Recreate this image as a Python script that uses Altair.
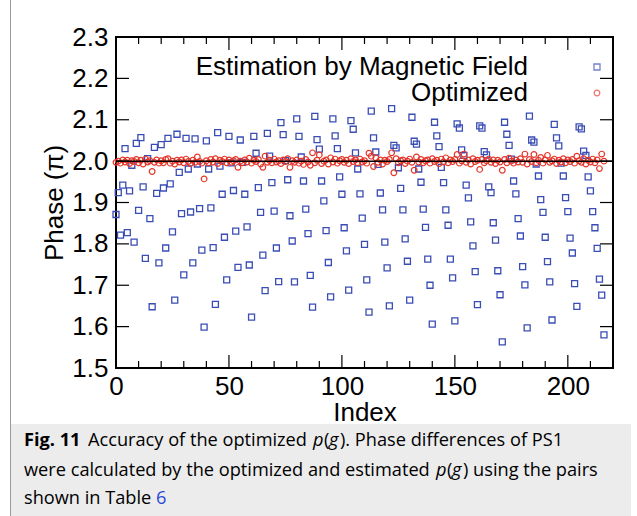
import altair as alt
import pandas as pd

# ---------------- data ----------------
index = list(range(217))

estimation = [
    1.871, 1.924, 1.821, 1.942, 2.030, 1.827, 1.928, 1.990, 1.804, 2.043,
    1.881, 2.057, 1.938, 1.765, 2.006, 1.861, 1.648, 2.033, 1.922, 1.754,
    2.040, 1.935, 1.790, 2.055, 1.945, 1.829, 1.664, 2.065, 1.973, 1.873,
    1.725, 2.055, 1.981, 1.877, 1.754, 2.054, 1.993, 1.885, 1.785, 1.599,
    2.049, 1.981, 1.887, 1.791, 1.654, 2.069, 1.988, 1.920, 1.816, 1.713,
    2.060, 1.996, 1.929, 1.831, 1.743, 2.051, 1.997, 1.920, 1.841, 1.749,
    1.623, 2.060, 2.019, 1.936, 1.876, 1.773, 1.687, 2.067, 2.012, 1.948,
    1.879, 1.790, 1.709, 2.093, 2.064, 2.001, 1.955, 1.868, 1.807, 1.708,
    2.102, 2.060, 2.010, 1.952, 1.884, 1.825, 1.724, 1.647, 2.108, 2.052,
    2.029, 1.952, 1.904, 1.832, 1.755, 1.672, 2.102, 2.061, 2.030, 1.962,
    1.920, 1.839, 1.783, 1.688, 2.098, 2.077, 2.020, 1.981, 1.921, 1.862,
    1.799, 1.713, 1.635, 2.121, 2.056, 2.022, 1.992, 1.923, 1.882, 1.804,
    1.742, 1.650, 2.127, 2.038, 2.032, 1.984, 1.934, 1.882, 1.812, 1.758,
    1.664, 2.106, 2.048, 2.041, 1.981, 1.949, 1.884, 1.840, 1.763, 1.700,
    1.606, 2.094, 2.061, 2.035, 1.985, 1.948, 1.882, 1.845, 1.763, 1.718,
    1.614, 2.090, 2.080, 2.027, 2.014, 1.942, 1.911, 1.853, 1.795, 1.733,
    1.653, 2.085, 2.080, 2.023, 2.015, 1.938, 1.924, 1.851, 1.809, 1.735,
    1.677, 1.563, 2.094, 2.065, 2.038, 2.005, 1.952, 1.921, 1.861, 1.819,
    1.745, 1.701, 1.597, 2.109, 2.051, 2.046, 1.993, 1.964, 1.907, 1.876,
    1.816, 1.757, 1.708, 1.616, 2.089, 2.056, 2.037, 1.995, 1.964, 1.912,
    1.878, 1.814, 1.778, 1.704, 1.649, 2.083, 2.078, 2.024, 2.014, 1.962,
    1.928, 1.878, 1.839, 1.789, 1.715, 1.676, 1.580,
]

optimized = [
    1.997, 2.000, 1.995, 2.003, 1.998, 2.002, 1.994, 2.001, 1.999, 2.004,
    1.996, 2.002, 1.993, 2.005, 1.998, 2.001, 1.975, 1.997, 2.003, 1.995,
    2.001, 1.996, 2.004, 2.006, 1.995, 2.000, 1.993, 2.002, 1.998, 2.003,
    1.996, 2.005, 1.999, 1.994, 2.002, 1.997, 2.010, 1.999, 1.995, 1.957,
    2.001, 1.996, 2.004, 1.998, 2.006, 1.994, 2.002, 1.999, 2.005, 1.996,
    2.003, 1.997, 2.001, 2.004, 1.985, 2.000, 1.996, 2.003, 1.998, 2.007,
    1.995, 2.002, 1.999, 2.004, 1.993, 1.985, 2.012, 1.997, 2.002, 1.996,
    2.005, 1.998, 2.001, 1.994, 2.003, 1.999, 2.006, 1.985, 2.001, 1.997,
    2.003, 1.995, 2.000, 1.992, 2.004, 1.998, 1.990, 2.020, 1.996, 2.002,
    2.015, 1.994, 2.000, 2.003, 1.993, 2.008, 1.998, 2.005, 1.995, 2.001,
    2.004, 1.997, 2.002, 1.994, 2.006, 1.999, 2.003, 1.996, 2.005, 1.998,
    2.001, 1.995, 2.019, 2.012, 1.987, 2.008, 1.997, 2.003, 1.993, 2.002,
    1.999, 2.004, 2.020, 1.972, 2.006, 1.996, 2.001, 2.003, 1.994, 2.000,
    2.005, 1.997, 1.978, 2.010, 1.998, 2.004, 1.996, 2.001, 2.003, 1.995,
    2.006, 1.999, 2.002, 1.994, 2.005, 1.998, 2.008, 1.996, 2.003, 1.999,
    2.004, 2.016, 1.995, 2.001, 2.017, 1.997, 2.003, 1.993, 2.006, 1.999,
    2.002, 1.980, 2.004, 1.996, 2.001, 2.005, 1.997, 2.003, 1.994, 2.002,
    1.998, 1.978, 2.004, 1.996, 2.007, 2.000, 1.995, 2.003, 1.998, 2.006,
    1.997, 2.017, 1.993, 2.004, 1.999, 2.016, 1.996, 2.002, 2.009, 1.995,
    2.003, 2.014, 1.997, 2.001, 2.005, 1.994, 2.002, 1.998, 2.006, 1.996,
    2.003, 1.999, 2.004, 1.995, 2.012, 2.001, 1.997, 2.006, 1.993, 2.002,
    1.998, 2.005, 1.996, 2.003, 1.982, 2.017, 2.000,
]

x_label_values = [0, 50, 100, 150, 200]
x_minor_ticks = [0, 10, 20, 30, 40, 60, 70, 80, 90, 110, 120, 130, 140, 160, 170, 180, 190, 210, 220]
x_major_ticks = [50, 100, 150, 200]
y_ticks = [1.5, 1.6, 1.7, 1.8, 1.9, 2.0, 2.1, 2.2, 2.3]
reference_line = [2.0]
legend_labels = ["Estimation by Magnetic Field", "Optimized"]

caption_line1 = ["Fig. 11", "Accuracy of the optimized", "p", "(", "g", "). Phase differences of PS1"]
caption_line2 = ["were calculated by the optimized and estimated", "p", "(", "g", ") using the pairs"]
caption_line3 = ["shown in Table", "6"]

# ---------------- layout ----------------
W, H = 497, 331
LEFT, TOP = 116, 37
BLUE = "#3a4db5"
RED = "#e5362a"
FONT = "Liberation Sans"
CAP_FONT = "Open Sans"

xs = alt.Scale(domain=[0, 220], nice=False, zero=False)
ys = alt.Scale(domain=[1.5, 2.3], nice=False, zero=False)

x_axis = alt.Axis(values=x_label_values, title="Index", labelFontSize=26, titleFontSize=26,
                  titleFontWeight="normal", labelPadding=5, titlePadding=0, labelFlush=False)
y_axis = alt.Axis(values=y_ticks, format=".1f", title="Phase (π)", labelFontSize=26, titleFontSize=26,
                  titleFontWeight="normal", labelPadding=8, titlePadding=4, labelFlush=False)


def X(field):
    return alt.X(field, scale=xs, axis=x_axis, title="Index")


def Y(field):
    return alt.Y(field, scale=ys, axis=y_axis, title="Phase (π)")


df = pd.DataFrame({"Index": index, "Estimation": estimation, "Optimized": optimized})
base = alt.Chart(df)

SQ = 36
CI = 32

blue = base.mark_point(shape="square", filled=False, color=BLUE, size=SQ, strokeWidth=1.3, opacity=1).encode(
    x=X("Index:Q"), y=Y("Estimation:Q"))

red = base.mark_point(shape="circle", filled=False, color=RED, size=CI, strokeWidth=1.2, opacity=1).encode(
    x=X("Index:Q"), y=Y("Optimized:Q"))

hline = alt.Chart(pd.DataFrame({"v": reference_line})).mark_rule(color="black", strokeWidth=1.5).encode(
    y=Y("v:Q"))

xt_minor = pd.DataFrame({"t": x_minor_ticks})
xt_major = pd.DataFrame({"t": x_major_ticks})
yt = pd.DataFrame({"t": y_ticks})


def xticks(d, y0, y1):
    return alt.Chart(d).mark_rule(color="black", strokeWidth=1.2).encode(
        x=X("t:Q"), y=alt.value(y0), y2=alt.value(y1))


def yticks(x0, x1):
    return alt.Chart(yt).mark_rule(color="black", strokeWidth=1.2).encode(
        y=Y("t:Q"), x=alt.value(x0), x2=alt.value(x1))


ticks = [
    xticks(xt_minor, H, H - 7), xticks(xt_major, H, H - 13),
    xticks(xt_minor, 0, 7), xticks(xt_major, 0, 13),
    yticks(0, 13), yticks(W - 13, W),
]


def label(text, x, y, size=26, font=FONT, align="left", weight="normal", style="normal", color="black"):
    return alt.Chart(pd.DataFrame({"s": [text]})).mark_text(
        font=font, fontSize=size, align=align, baseline="middle", fontWeight=weight,
        fontStyle=style, color=color).encode(text="s:N", x=alt.value(x), y=alt.value(y))


legend = [
    label(legend_labels[0], 528 - LEFT, 67 - TOP, align="right"),
    label(legend_labels[1], 528 - LEFT, 93 - TOP, align="right"),
    alt.Chart(pd.DataFrame({"s": ["a"]})).mark_point(shape="square", filled=False, color=BLUE, size=SQ, strokeWidth=1.3).encode(
        x=alt.value(597 - LEFT), y=alt.value(67 - TOP)),
    alt.Chart(pd.DataFrame({"s": ["b"]})).mark_point(shape="circle", filled=False, color=RED, size=CI, strokeWidth=1.2).encode(
        x=alt.value(597 - LEFT), y=alt.value(93 - TOP)),
]

# caption block
cap_bg = alt.Chart(pd.DataFrame({"s": ["bg"]})).mark_rect(color="#ececec").encode(
    x=alt.value(11 - LEFT), x2=alt.value(631 - LEFT), y=alt.value(424 - TOP), y2=alt.value(516 - TOP))
frame_l = alt.Chart(pd.DataFrame({"s": ["l"]})).mark_rule(color="#9a9a9a", strokeWidth=1).encode(
    x=alt.value(10.5 - LEFT), y=alt.value(0 - TOP), y2=alt.value(516 - TOP))

CS = 18.2
L1, L2, L3 = 441 - TOP, 471 - TOP, 499 - TOP
cap = [
    label(caption_line1[0], 24 - LEFT, L1, CS, CAP_FONT, weight="bold"),
    label(caption_line1[1], 88 - LEFT, L1, CS, CAP_FONT),
    label(caption_line1[2], 313 - LEFT, L1, CS, CAP_FONT, style="italic"),
    label(caption_line1[3], 324 - LEFT, L1, CS, CAP_FONT),
    label(caption_line1[4], 329 - LEFT, L1, CS, CAP_FONT, style="italic"),
    label(caption_line1[5], 340 - LEFT, L1, CS, CAP_FONT),
    label(caption_line2[0], 24 - LEFT, L2, CS, CAP_FONT),
    label(caption_line2[1], 436 - LEFT, L2, CS, CAP_FONT, style="italic"),
    label(caption_line2[2], 447 - LEFT, L2, CS, CAP_FONT),
    label(caption_line2[3], 452 - LEFT, L2, CS, CAP_FONT, style="italic"),
    label(caption_line2[4], 463 - LEFT, L2, CS, CAP_FONT),
    label(caption_line3[0], 24 - LEFT, L3, CS, CAP_FONT),
    label(caption_line3[1], 156 - LEFT, L3, CS, CAP_FONT, color="#2a4bd7"),
]

chart = alt.layer(
    blue, red, hline, *ticks, *legend, cap_bg, frame_l, *cap
).properties(
    width=W, height=H,
    autosize=alt.AutoSizeParams(type="none"),
    padding={"left": LEFT, "top": TOP, "right": 637 - LEFT - W, "bottom": 516 - TOP - H},
    background="white",
).configure_view(
    stroke="black", strokeWidth=2
).configure_axis(
    domain=False, ticks=False, grid=False, labelFont=FONT, titleFont=FONT,
    labelColor="black", titleColor="black",
)

chart.save("out.html", embed_options={"renderer": "svg", "actions": False})
